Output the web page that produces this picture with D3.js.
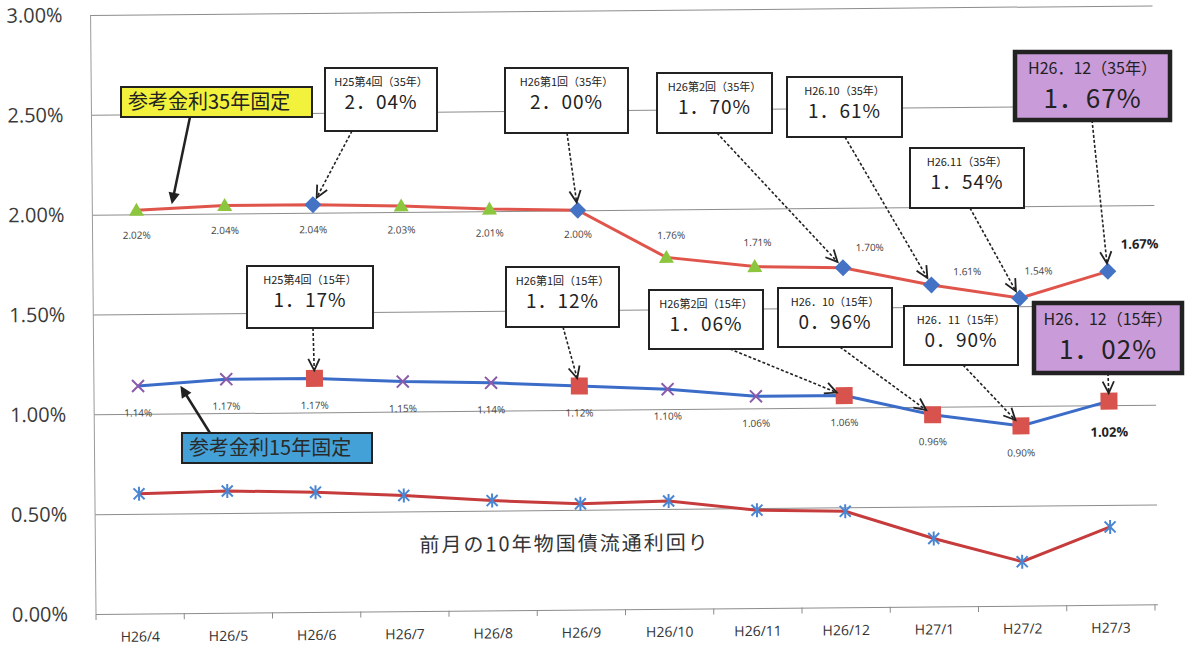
<!DOCTYPE html>
<html>
<head>
<meta charset="utf-8">
<script src="https://cdn.jsdelivr.net/npm/d3@7"></script>
<style>
  body { margin: 0; background: #fff; }
</style>
</head>
<body>
<script>
const WIDTH = 1187;
const HEIGHT = 646;

// data
const months = ["H26/4", "H26/5", "H26/6", "H26/7", "H26/8", "H26/9", "H26/10", "H26/11", "H26/12", "H27/1", "H27/2", "H27/3"];
const rate35 = [2.02, 2.04, 2.04, 2.03, 2.01, 2.00, 1.76, 1.71, 1.70, 1.61, 1.54, 1.67];
const rate15 = [1.14, 1.17, 1.17, 1.15, 1.14, 1.12, 1.10, 1.06, 1.06, 0.96, 0.90, 1.02];
const jgb10 = [0.60, 0.61, 0.60, 0.58, 0.55, 0.53, 0.54, 0.49, 0.48, 0.34, 0.22, 0.39];
const yTicks = [0, 0.5, 1, 1.5, 2, 2.5, 3];
// months that carry a callout (diamond / square marker)
const highlight = [false, false, true, false, false, true, false, false, true, true, true, true];

// label offsets (dx, dy) for the value labels
const label35Offset = [[0, 25], [0, 25], [0, 25], [0, 24], [0, 24], [0, 24], [5, -22], [3, -24], [27, -20], [36, -13], [19, -27], [32, -27]];
const label15Offset = [[0, 27], [0, 27], [0, 27], [0, 27], [0, 27], [0, 27], [0, 27], [0, 27], [0, 27], [0, 27], [0, 27], [0, 31]];

const callouts35 = [
  { i: 2,  title: "H25第4回（35年）", box: [325, 68, 112, 63], from: 352 },
  { i: 5,  title: "H26第1回（35年）", box: [505, 68, 123, 65], from: 567 },
  { i: 8,  title: "H26第2回（35年）", box: [657, 73, 115, 60], from: 717 },
  { i: 9,  title: "H26.10（35年）", box: [787, 77, 115, 60], from: 845 },
  { i: 10, title: "H26.11（35年）", box: [910, 148, 114, 60], from: 970 },
  { i: 11, title: "H26．12（35年）", box: [1015, 52, 155, 68], from: 1092, big: true }
];
const callouts15 = [
  { i: 2,  title: "H25第4回（15年）", box: [247, 266, 126, 62], from: 313 },
  { i: 5,  title: "H26第1回（15年）", box: [506, 267, 113, 60], from: 563 },
  { i: 8,  title: "H26第2回（15年）", box: [649, 290, 114, 59], from: 730 },
  { i: 9,  title: "H26．10（15年）", box: [778, 288, 114, 59], from: 840 },
  { i: 10, title: "H26．11（15年）", box: [904, 306, 114, 59], from: 963 },
  { i: 11, title: "H26．12（15年）", box: [1034, 303, 148, 70], from: 1108, big: true }
];

// the scanned page is slightly tilted
const ANGLE = -0.52;
const PIVOT = [96, 614];
const rad = ANGLE * Math.PI / 180;
const toScreen = ([px, py]) => {
  const dx = px - PIVOT[0], dy = py - PIVOT[1];
  return [PIVOT[0] + dx * Math.cos(rad) - dy * Math.sin(rad),
          PIVOT[1] + dx * Math.sin(rad) + dy * Math.cos(rad)];
};

const SVG = d3.select("body").append("svg")
  .attr("width", WIDTH)
  .attr("height", HEIGHT);

SVG.append("rect").attr("width", WIDTH).attr("height", HEIGHT).attr("fill", "#fff");

const chart = SVG.append("g")
  .attr("transform", `rotate(${ANGLE} ${PIVOT[0]} ${PIVOT[1]})`);

const x = d3.scaleBand().domain(months).range([96, 1155]);
const cx = (i) => x(months[i]) + x.bandwidth() / 2;
const y = d3.scaleLinear().domain([0, 3]).range([614, 15]);
const GRID_END = 1158;

// y axis with grid
const yAxis = chart.append("g")
  .attr("transform", `translate(${PIVOT[0]},0)`)
  .call(d3.axisLeft(y)
    .tickValues(yTicks)
    .tickFormat((d) => d.toFixed(2) + "%")
    .tickSize(-(GRID_END - PIVOT[0]))
    .tickPadding(28))
  .attr("font-family", "'Open Sans', sans-serif")
  .attr("font-size", 20);
yAxis.select(".domain").remove();
yAxis.selectAll("line").attr("stroke", "#8c8c8c").attr("stroke-width", 1);
yAxis.selectAll("text").attr("fill", "#3a3a3a");

chart.append("line")
  .attr("x1", PIVOT[0]).attr("x2", PIVOT[0])
  .attr("y1", y(3)).attr("y2", y(0))
  .attr("stroke", "#9a9a9a");

// x axis ticks at category boundaries
chart.append("g")
  .selectAll("line")
  .data(months.map((m) => x(m)).concat([x.range()[1]]))
  .join("line")
  .attr("x1", (d) => d).attr("x2", (d) => d)
  .attr("y1", y(0)).attr("y2", y(0) + 6)
  .attr("stroke", "#8c8c8c");

chart.append("g")
  .selectAll("text")
  .data(months)
  .join("text")
  .attr("x", (d, i) => cx(i))
  .attr("y", y(0) + 28)
  .attr("text-anchor", "middle")
  .attr("font-family", "'Open Sans', sans-serif")
  .attr("font-size", 14)
  .attr("fill", "#333")
  .text((d) => d);

// lines
const lineGen = d3.line()
  .x((d, i) => cx(i))
  .y((d) => y(d));

chart.append("path").datum(jgb10)
  .attr("d", lineGen).attr("fill", "none")
  .attr("stroke", "#c63b3b").attr("stroke-width", 3);
chart.append("path").datum(rate15)
  .attr("d", lineGen).attr("fill", "none")
  .attr("stroke", "#3b6cc8").attr("stroke-width", 3);
chart.append("path").datum(rate35)
  .attr("d", lineGen).attr("fill", "none")
  .attr("stroke", "#e0554b").attr("stroke-width", 3);

// markers
const TRI = "M0,-7.5L7.5,5.5L-7.5,5.5Z";
const DIAMOND = "M0,-8.5L8.5,0L0,8.5L-8.5,0Z";
const SQUARE = "M-8.5,-8.5h17v17h-17Z";
const CROSS = "M-6,-6L6,6M6,-6L-6,6";
const STAR = "M-5.5,-5.5L5.5,5.5M5.5,-5.5L-5.5,5.5M0,-7L0,7";

chart.append("g").selectAll("path").data(jgb10).join("path")
  .attr("transform", (d, i) => `translate(${cx(i)},${y(d)})`)
  .attr("d", STAR).attr("fill", "none")
  .attr("stroke", "#4b86d2").attr("stroke-width", 2);

chart.append("g").selectAll("path").data(rate15).join("path")
  .attr("transform", (d, i) => `translate(${cx(i)},${y(d)})`)
  .attr("d", (d, i) => highlight[i] ? SQUARE : CROSS)
  .attr("fill", (d, i) => highlight[i] ? "#d9534e" : "none")
  .attr("stroke", (d, i) => highlight[i] ? "none" : "#8a5aab")
  .attr("stroke-width", 2);

chart.append("g").selectAll("path").data(rate35).join("path")
  .attr("transform", (d, i) => `translate(${cx(i)},${y(d)})`)
  .attr("d", (d, i) => highlight[i] ? DIAMOND : TRI)
  .attr("fill", (d, i) => highlight[i] ? "#4472c4" : "#8cc63f");

// value labels
const pct = (d) => d.toFixed(2) + "%";

chart.append("g").selectAll("text").data(rate35).join("text")
  .attr("x", (d, i) => cx(i) + label35Offset[i][0])
  .attr("y", (d, i) => y(d) + label35Offset[i][1])
  .attr("dy", "0.35em")
  .attr("text-anchor", "middle")
  .attr("font-family", "'Open Sans', sans-serif")
  .attr("font-size", (d, i) => i === 11 ? 13 : 10)
  .attr("font-weight", (d, i) => i === 11 ? "bold" : "normal")
  .attr("fill", (d, i) => i === 11 ? "#222" : "#444")
  .text(pct);

chart.append("g").selectAll("text").data(rate15).join("text")
  .attr("x", (d, i) => cx(i) + label15Offset[i][0])
  .attr("y", (d, i) => y(d) + label15Offset[i][1])
  .attr("dy", "0.35em")
  .attr("text-anchor", "middle")
  .attr("font-family", "'Open Sans', sans-serif")
  .attr("font-size", (d, i) => i === 11 ? 13 : 10)
  .attr("font-weight", (d, i) => i === 11 ? "bold" : "normal")
  .attr("fill", (d, i) => i === 11 ? "#222" : "#444")
  .text(pct);

chart.append("text")
  .attr("x", 420)
  .attr("y", 548)
  .attr("dy", "0.35em")
  .attr("font-family", "'Noto Sans CJK JP', sans-serif")
  .attr("font-size", 20)
  .attr("letter-spacing", 2)
  .attr("fill", "#333")
  .text("前月の10年物国債流通利回り");

// annotations, drawn on the page (screen coordinates)
const notes = SVG.append("g").attr("font-family", "'Noto Sans CJK JP', sans-serif");
const boxValue = (d) => d.toFixed(2).replace(".", "．") + "%";

const drawArrow = (from, to, gap, solid) => {
  const dx = to[0] - from[0], dy = to[1] - from[1];
  const len = Math.hypot(dx, dy);
  const ux = dx / len, uy = dy / len;
  const end = [to[0] - ux * gap, to[1] - uy * gap];
  const head = 13, spread = 0.45;
  const a = Math.atan2(uy, ux);
  const left = [end[0] - head * Math.cos(a - spread), end[1] - head * Math.sin(a - spread)];
  const right = [end[0] - head * Math.cos(a + spread), end[1] - head * Math.sin(a + spread)];
  if (solid) {
    notes.append("line")
      .attr("x1", from[0]).attr("y1", from[1])
      .attr("x2", end[0] - ux * 8).attr("y2", end[1] - uy * 8)
      .attr("stroke", "#222").attr("stroke-width", 2.5);
    notes.append("path")
      .attr("d", `M${end[0]},${end[1]}L${left[0]},${left[1]}L${right[0]},${right[1]}Z`)
      .attr("fill", "#222");
  } else {
    notes.append("line")
      .attr("x1", from[0]).attr("y1", from[1])
      .attr("x2", end[0]).attr("y2", end[1])
      .attr("stroke", "#222").attr("stroke-width", 1.6)
      .attr("stroke-dasharray", "3,2");
    notes.append("path")
      .attr("d", `M${left[0]},${left[1]}L${end[0]},${end[1]}L${right[0]},${right[1]}`)
      .attr("fill", "none")
      .attr("stroke", "#222").attr("stroke-width", 1.8);
  }
};

const drawCallouts = (list, values) => {
  list.forEach((c) => {
    const [bx, by, bw, bh] = c.box;
    const target = toScreen([cx(c.i), y(values[c.i])]);
    drawArrow([c.from, by + bh], target, 8, false);
    notes.append("rect")
      .attr("x", bx).attr("y", by).attr("width", bw).attr("height", bh)
      .attr("fill", c.big ? "#c99bd9" : "#fff")
      .attr("stroke", "#222")
      .attr("stroke-width", c.big ? 4.5 : 2);
    notes.append("text")
      .attr("x", bx + bw / 2)
      .attr("y", by + (c.big ? 16 : 14))
      .attr("dy", "0.35em")
      .attr("text-anchor", "middle")
      .attr("font-size", c.big ? 16 : 11)
      .attr("fill", "#222")
      .text(c.title);
    notes.append("text")
      .attr("x", bx + bw / 2)
      .attr("y", by + (c.big ? 47 : 34))
      .attr("dy", "0.35em")
      .attr("text-anchor", "middle")
      .attr("font-size", c.big ? 26 : 19)
      .attr("letter-spacing", 1)
      .attr("fill", "#222")
      .text(boxValue(values[c.i]));
  });
};

drawCallouts(callouts35, rate35);
drawCallouts(callouts15, rate15);

// series name tags
const interp = (values, i, t) => {
  const a = toScreen([cx(i), y(values[i])]);
  const b = toScreen([cx(i + 1), y(values[i + 1])]);
  return [a[0] + (b[0] - a[0]) * t, a[1] + (b[1] - a[1]) * t];
};

const tip35 = interp(rate35, 0, 0.4);
drawArrow([190, 117], [tip35[0], tip35[1] - 4], 0, true);
notes.append("rect")
  .attr("x", 121).attr("y", 87).attr("width", 191).attr("height", 30)
  .attr("fill", "#f2f23c").attr("stroke", "#222").attr("stroke-width", 2);
notes.append("text")
  .attr("x", 128).attr("y", 102).attr("dy", "0.35em")
  .attr("font-size", 20).attr("fill", "#222")
  .text("参考金利35年固定");

const tip15 = interp(rate15, 0, 0.48);
drawArrow([210, 433], [tip15[0], tip15[1] + 3], 0, true);
notes.append("rect")
  .attr("x", 182).attr("y", 433).attr("width", 190).attr("height", 30)
  .attr("fill", "#43a1d8").attr("stroke", "#222").attr("stroke-width", 2);
notes.append("text")
  .attr("x", 189).attr("y", 448).attr("dy", "0.35em")
  .attr("font-size", 20).attr("fill", "#2a2a2a")
  .text("参考金利15年固定");
</script>
</body>
</html>
